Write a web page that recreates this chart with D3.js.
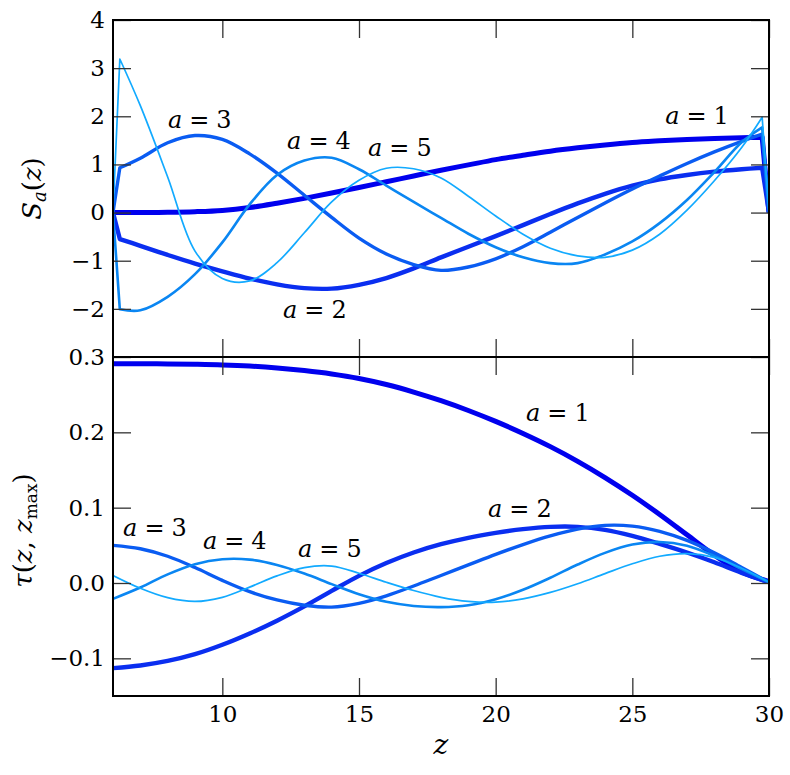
<!DOCTYPE html>
<html>
<head>
<meta charset="utf-8">
<script src="https://cdn.jsdelivr.net/npm/d3@7"></script>
<style>
  body { margin: 0; background: #fff; }
</style>
</head>
<body>
<svg id="chart" width="790" height="775"></svg>
<script>
// top panel: S_a(z), sampled with the spikes at both ends
const zTop = [6, 6.25, 7, 8, 9, 10, 11, 12, 13, 14, 15, 16, 17, 18, 19, 20, 21, 22, 23, 24, 25, 26, 27, 28, 29, 29.75, 30];
const s1 = [0, 0, 0, 0.005, 0.018, 0.045, 0.105, 0.195, 0.295, 0.405, 0.52, 0.64, 0.76, 0.88, 0.99, 1.1, 1.19, 1.275, 1.345, 1.405, 1.455, 1.49, 1.52, 1.54, 1.555, 1.565, 0];
const s2 = [0, -0.55, -0.69, -0.88, -1.06, -1.22, -1.37, -1.49, -1.57, -1.58, -1.5, -1.36, -1.16, -0.93, -0.71, -0.49, -0.26, -0.03, 0.19, 0.39, 0.56, 0.69, 0.78, 0.85, 0.9, 0.93, 0];
const s3 = [0, 0.93, 1.13, 1.45, 1.6, 1.52, 1.22, 0.82, 0.36, -0.1, -0.53, -0.86, -1.08, -1.2, -1.13, -0.96, -0.71, -0.41, -0.1, 0.2, 0.49, 0.76, 1.02, 1.26, 1.48, 1.63, 0];
const s4 = [0, -2.01, -2.03, -1.75, -1.28, -0.62, 0.17, 0.78, 1.08, 1.14, 0.9, 0.56, 0.22, -0.11, -0.44, -0.72, -0.93, -1.05, -1.05, -0.87, -0.6, -0.22, 0.26, 0.84, 1.46, 1.77, 0];
const s5 = [0, 3.19, 2.22, 0.74, -0.8, -1.37, -1.42, -1.04, -0.42, 0.22, 0.67, 0.92, 0.91, 0.72, 0.34, -0.07, -0.45, -0.74, -0.9, -0.93, -0.78, -0.45, 0.05, 0.66, 1.35, 1.98, 0];

// bottom panel: tau(z, z_max)
const zBot = [6, 7, 8, 9, 10, 11, 12, 13, 14, 15, 16, 17, 18, 19, 20, 21, 22, 23, 24, 25, 26, 27, 28, 29, 30];
const t1 = [0.291, 0.291, 0.2908, 0.2903, 0.2895, 0.288, 0.2855, 0.282, 0.2775, 0.2715, 0.2635, 0.2535, 0.242, 0.229, 0.2145, 0.1985, 0.181, 0.1615, 0.14, 0.1165, 0.091, 0.064, 0.037, 0.0145, 0.002];
const t2 = [-0.113, -0.1095, -0.1035, -0.0945, -0.082, -0.067, -0.05, -0.031, -0.0105, 0.0095, 0.0265, 0.0405, 0.0515, 0.06, 0.0665, 0.0715, 0.0745, 0.0745, 0.0705, 0.0625, 0.052, 0.0405, 0.0275, 0.0135, 0.001];
const t3 = [0.05, 0.0455, 0.0355, 0.0205, 0.0035, -0.0115, -0.0225, -0.0295, -0.032, -0.027, -0.017, -0.004, 0.01, 0.024, 0.038, 0.051, 0.0625, 0.0715, 0.0765, 0.0755, 0.0685, 0.0565, 0.04, 0.0205, 0.001];
const t4 = [-0.021, -0.006, 0.0115, 0.025, 0.0315, 0.031, 0.024, 0.0125, -0.0015, -0.015, -0.025, -0.0305, -0.032, -0.0295, -0.0215, -0.009, 0.007, 0.0245, 0.04, 0.051, 0.0545, 0.0495, 0.036, 0.0185, 0.001];
const t5 = [0.01, -0.007, -0.0195, -0.0245, -0.019, -0.0055, 0.0095, 0.0205, 0.0225, 0.013, 0.001, -0.01, -0.019, -0.0245, -0.0255, -0.021, -0.0125, -0.001, 0.0125, 0.0255, 0.0355, 0.039, 0.034, 0.0195, 0.001];

const aValues = [1, 2, 3, 4, 5];
const colors = ["#0000ee", "#0a2ef0", "#0a5cf2", "#0a86f2", "#12aaff"];
const widths = [5, 4.4, 3.4, 2.6, 1.7];

const xTicks = [10, 15, 20, 25, 30];
const topTicks = [-2, -1, 0, 1, 2, 3, 4];
const botTicks = [-0.1, 0.0, 0.1, 0.2, 0.3];

// where the "a = n" labels sit, in data units
const topLabels = [[26.2, 1.84], [12.22, -2.19], [8.01, 1.76], [12.37, 1.32], [15.33, 1.18]];
const botLabels = [[21.11, 0.2155], [19.72, 0.088], [6.37, 0.0624], [9.29, 0.045], [12.77, 0.035]];

const FONT = "DejaVu Serif";
const L = 113, R = 769, T = 20, M = 357, B = 696;
const svg = d3.select("#chart");

const x = d3.scaleLinear().domain([6, 30]).range([L, R]);
const yT = d3.scaleLinear().domain([-3, 4]).range([M, T]);
const yB = d3.scaleLinear().domain([-0.15, 0.3]).range([B, M]);

const defs = svg.append("defs");
defs.append("clipPath").attr("id", "clipT").append("rect")
  .attr("x", L).attr("y", T).attr("width", R - L).attr("height", M - T);
defs.append("clipPath").attr("id", "clipB").append("rect")
  .attr("x", L).attr("y", M).attr("width", R - L).attr("height", B - M);

const smooth = d3.line().curve(d3.curveCatmullRom.alpha(0.5));

// end spikes are straight, the rest is smooth
function topPath(vals) {
  const pts = zTop.map((z, i) => [x(z), yT(vals[i])]);
  const inner = smooth(pts.slice(1, -1));
  const a = pts[0], b = pts[pts.length - 1];
  return `M${a[0]},${a[1]}L` + inner.slice(1) + `L${b[0]},${b[1]}`;
}

const gT = svg.append("g").attr("clip-path", "url(#clipT)");
[s1, s2, s3, s4, s5].forEach((vals, i) => {
  gT.append("path")
    .attr("d", topPath(vals))
    .attr("fill", "none")
    .attr("stroke", colors[i])
    .attr("stroke-width", widths[i])
    .attr("stroke-linejoin", "round");
});

const gB = svg.append("g").attr("clip-path", "url(#clipB)");
[t1, t2, t3, t4, t5].forEach((vals, i) => {
  gB.append("path")
    .attr("d", smooth(zBot.map((z, j) => [x(z), yB(vals[j])])))
    .attr("fill", "none")
    .attr("stroke", colors[i])
    .attr("stroke-width", widths[i])
    .attr("stroke-linecap", "round");
});

// axes with inward ticks on all four sides
function styleAxis(g) {
  g.attr("font-family", FONT).attr("font-size", 23);
  g.select(".domain").remove();
  g.selectAll(".tick line").attr("stroke", "#333").attr("stroke-width", 1.3);
  g.selectAll(".tick text").attr("fill", "#000");
}
const fmtTop = d => d < 0 ? "\u2212" + Math.abs(d) : String(d);
const fmtBot = d => d < 0 ? "\u2212" + Math.abs(d).toFixed(1) : d.toFixed(1);

svg.append("g").attr("transform", `translate(${L},0)`)
  .call(d3.axisLeft(yT).tickValues(topTicks).tickSize(-18).tickPadding(8).tickFormat(fmtTop))
  .call(styleAxis);
svg.append("g").attr("transform", `translate(${R},0)`)
  .call(d3.axisRight(yT).tickValues(topTicks).tickSize(-18).tickFormat(""))
  .call(styleAxis);
svg.append("g").attr("transform", `translate(${L},0)`)
  .call(d3.axisLeft(yB).tickValues(botTicks).tickSize(-18).tickPadding(8).tickFormat(fmtBot))
  .call(styleAxis);
svg.append("g").attr("transform", `translate(${R},0)`)
  .call(d3.axisRight(yB).tickValues(botTicks).tickSize(-18).tickFormat(""))
  .call(styleAxis);

svg.append("g").attr("transform", `translate(0,${T})`)
  .call(d3.axisTop(x).tickValues(xTicks).tickSize(-18).tickFormat(""))
  .call(styleAxis);
svg.append("g").attr("transform", `translate(0,${M})`)
  .call(d3.axisBottom(x).tickValues(xTicks).tickSize(-18).tickFormat(""))
  .call(styleAxis);
svg.append("g").attr("transform", `translate(0,${M})`)
  .call(d3.axisTop(x).tickValues(xTicks).tickSize(-18).tickFormat(""))
  .call(styleAxis);
svg.append("g").attr("transform", `translate(0,${B})`)
  .call(d3.axisBottom(x).tickValues(xTicks).tickSize(-18).tickPadding(10))
  .call(styleAxis);

// frames
[[T, M], [M, B]].forEach(([y0, y1]) => {
  svg.append("rect")
    .attr("x", L).attr("y", y0).attr("width", R - L).attr("height", y1 - y0)
    .attr("fill", "none").attr("stroke", "#000").attr("stroke-width", 2);
});

// "a = n" annotations
function aLabel(px, py, n) {
  const t = svg.append("text").attr("x", px).attr("y", py)
    .attr("font-family", FONT).attr("font-size", 24);
  t.append("tspan").attr("font-style", "italic").text("a");
  t.append("tspan").attr("dx", 7).text("=");
  t.append("tspan").attr("dx", 7).text(n);
}
topLabels.forEach((p, i) => aLabel(x(p[0]), yT(p[1]), aValues[i]));
botLabels.forEach((p, i) => aLabel(x(p[0]), yB(p[1]), aValues[i]));

// axis titles
const sl = svg.append("text")
  .attr("transform", `translate(41,${(T + M) / 2}) rotate(-90)`)
  .attr("text-anchor", "middle").attr("font-family", FONT).attr("font-size", 26);
sl.append("tspan").attr("font-style", "italic").text("S");
sl.append("tspan").attr("font-style", "italic").attr("font-size", 18).attr("dy", 5).text("a");
sl.append("tspan").attr("dy", -5).text("(");
sl.append("tspan").attr("font-style", "italic").text("z");
sl.append("tspan").text(")");

const tl = svg.append("text")
  .attr("transform", `translate(32,${(M + B) / 2 + 4}) rotate(-90)`)
  .attr("text-anchor", "middle").attr("font-family", FONT).attr("font-size", 26);
tl.append("tspan").attr("font-style", "italic").text("\u03c4");
tl.append("tspan").text("(");
tl.append("tspan").attr("font-style", "italic").text("z");
tl.append("tspan").text(", ");
tl.append("tspan").attr("font-style", "italic").text("z");
tl.append("tspan").attr("font-size", 17).attr("dy", 5).text("max");
tl.append("tspan").attr("dy", -5).text(")");

svg.append("text")
  .attr("x", (L + R) / 2).attr("y", 754)
  .attr("text-anchor", "middle")
  .attr("font-family", FONT).attr("font-size", 28).attr("font-style", "italic")
  .text("z");
</script>
</body>
</html>
